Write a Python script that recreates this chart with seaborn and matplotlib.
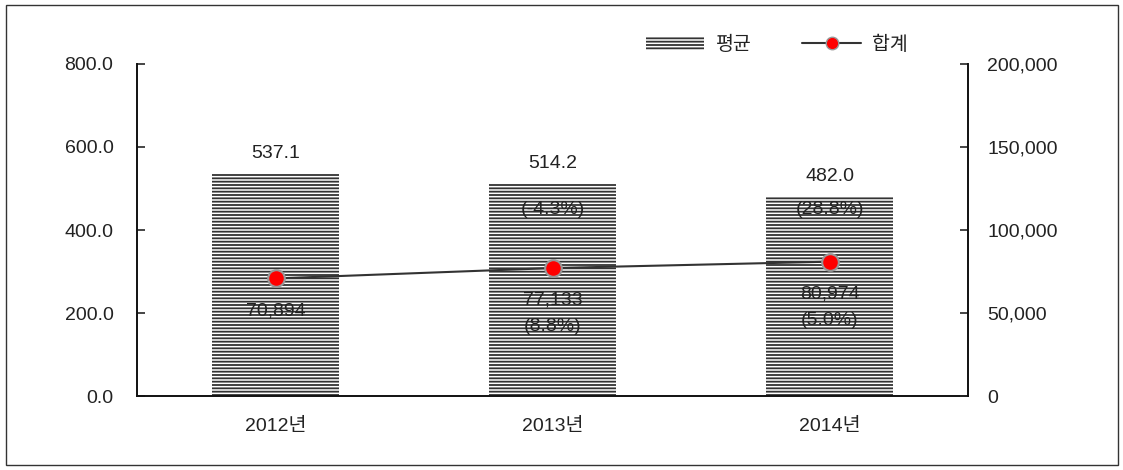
import matplotlib
matplotlib.use("Agg")
import matplotlib.pyplot as plt
import seaborn as sns
import pandas as pd
from matplotlib.patches import Patch, Rectangle
from matplotlib.lines import Line2D
from matplotlib.ticker import FuncFormatter

# 데이터
years = ["2012년", "2013년", "2014년"]
avg_vals = [537.1, 514.2, 482.0]
avg_pct = ["", "(-4.3%)", "(28.8%)"]
total_vals = [70894, 77133, 80974]
total_pct = ["", "(8.8%)", "(5.0%)"]

df = pd.DataFrame({"연도": years, "평균": avg_vals, "합계": total_vals})

sns.set_style("white")
plt.rcParams["font.family"] = ["Liberation Sans", "Noto Sans CJK KR", "DejaVu Sans"]
plt.rcParams["hatch.linewidth"] = 1.3
txt = "#222222"
fs = 14

fig = plt.figure(figsize=(11.23, 4.70), dpi=100)
ax = fig.add_axes([0.122, 0.157, 0.740, 0.707])
ax2 = ax.twinx()

# 막대 (평균)
sns.barplot(data=df, x="연도", y="평균", color="white", edgecolor="#333333",
            hatch="-----", linewidth=0, width=0.46, ax=ax)

# 선 (합계)
sns.pointplot(data=df, x="연도", y="합계", color="#333333", markers="o",
              markersize=12, markerfacecolor="red", markeredgecolor="#999999",
              markeredgewidth=1.5, linewidth=1.5, ax=ax2)

ax.set_ylim(0, 800)
ax2.set_ylim(0, 200000)
ax.set_xlim(-0.5, 2.5)
ax.set_yticks([0, 200, 400, 600, 800])
ax2.set_yticks([0, 50000, 100000, 150000, 200000])
ax.yaxis.set_major_formatter(FuncFormatter(lambda v, p: f"{v:.1f}"))
ax2.yaxis.set_major_formatter(FuncFormatter(lambda v, p: f"{v:,.0f}"))
ax.set_xlabel("")
ax.set_ylabel("")
ax2.set_ylabel("")

for a in (ax, ax2):
    for s in ("left", "right", "bottom"):
        a.spines[s].set_color("#111111")
        a.spines[s].set_linewidth(1.4)
    a.spines["top"].set_visible(False)
ax.spines["right"].set_visible(False)
ax2.spines["left"].set_visible(False)
ax2.spines["bottom"].set_visible(False)

ax.tick_params(axis="y", direction="in", length=6, width=1.2, labelsize=fs,
               labelcolor=txt, pad=17)
ax2.tick_params(axis="y", direction="in", length=6, width=1.2, labelsize=fs,
                labelcolor=txt, pad=14)
ax.tick_params(axis="x", length=0, labelsize=fs, labelcolor=txt, pad=16)
ax.set_xticks([0.5, 1.5], minor=True)
ax.tick_params(axis="x", which="minor", direction="in", length=6, width=1.2)

# 라벨
pct_y = 450
for i in range(len(years)):
    ax.annotate(f"{avg_vals[i]:.1f}", (i, avg_vals[i]), xytext=(0, 8),
                textcoords="offset points", ha="center", va="bottom",
                fontsize=fs, color=txt)
    if avg_pct[i]:
        ax.text(i, pct_y, avg_pct[i], ha="center", va="center",
                fontsize=fs, color=txt)
    lab = f"{total_vals[i]:,}"
    if total_pct[i]:
        lab += "\n" + total_pct[i]
    ax2.annotate(lab, (i, total_vals[i]), xytext=(0, -17),
                 textcoords="offset points", ha="center", va="top",
                 fontsize=fs, color=txt, linespacing=1.75)

# 범례
handles = [
    Patch(facecolor="white", edgecolor="#333333", hatch="-----", linewidth=0,
          label="평균"),
    Line2D([], [], color="#333333", lw=1.5, marker="o", markersize=9,
           markerfacecolor="red", markeredgecolor="#999999", label="합계"),
]
fig.legend(handles=handles, loc="center", bbox_to_anchor=(0.692, 0.905),
           ncol=2, frameon=False, fontsize=fs, handlelength=3.0,
           handletextpad=0.6, columnspacing=2.6, labelcolor=txt)

# 외곽선
fig.patches.append(Rectangle((6 / 1123, 5 / 470), 1112 / 1123, 460 / 470,
                             transform=fig.transFigure, fill=False,
                             edgecolor="#333333", linewidth=1.0))

fig.savefig("out.png", dpi=100)
